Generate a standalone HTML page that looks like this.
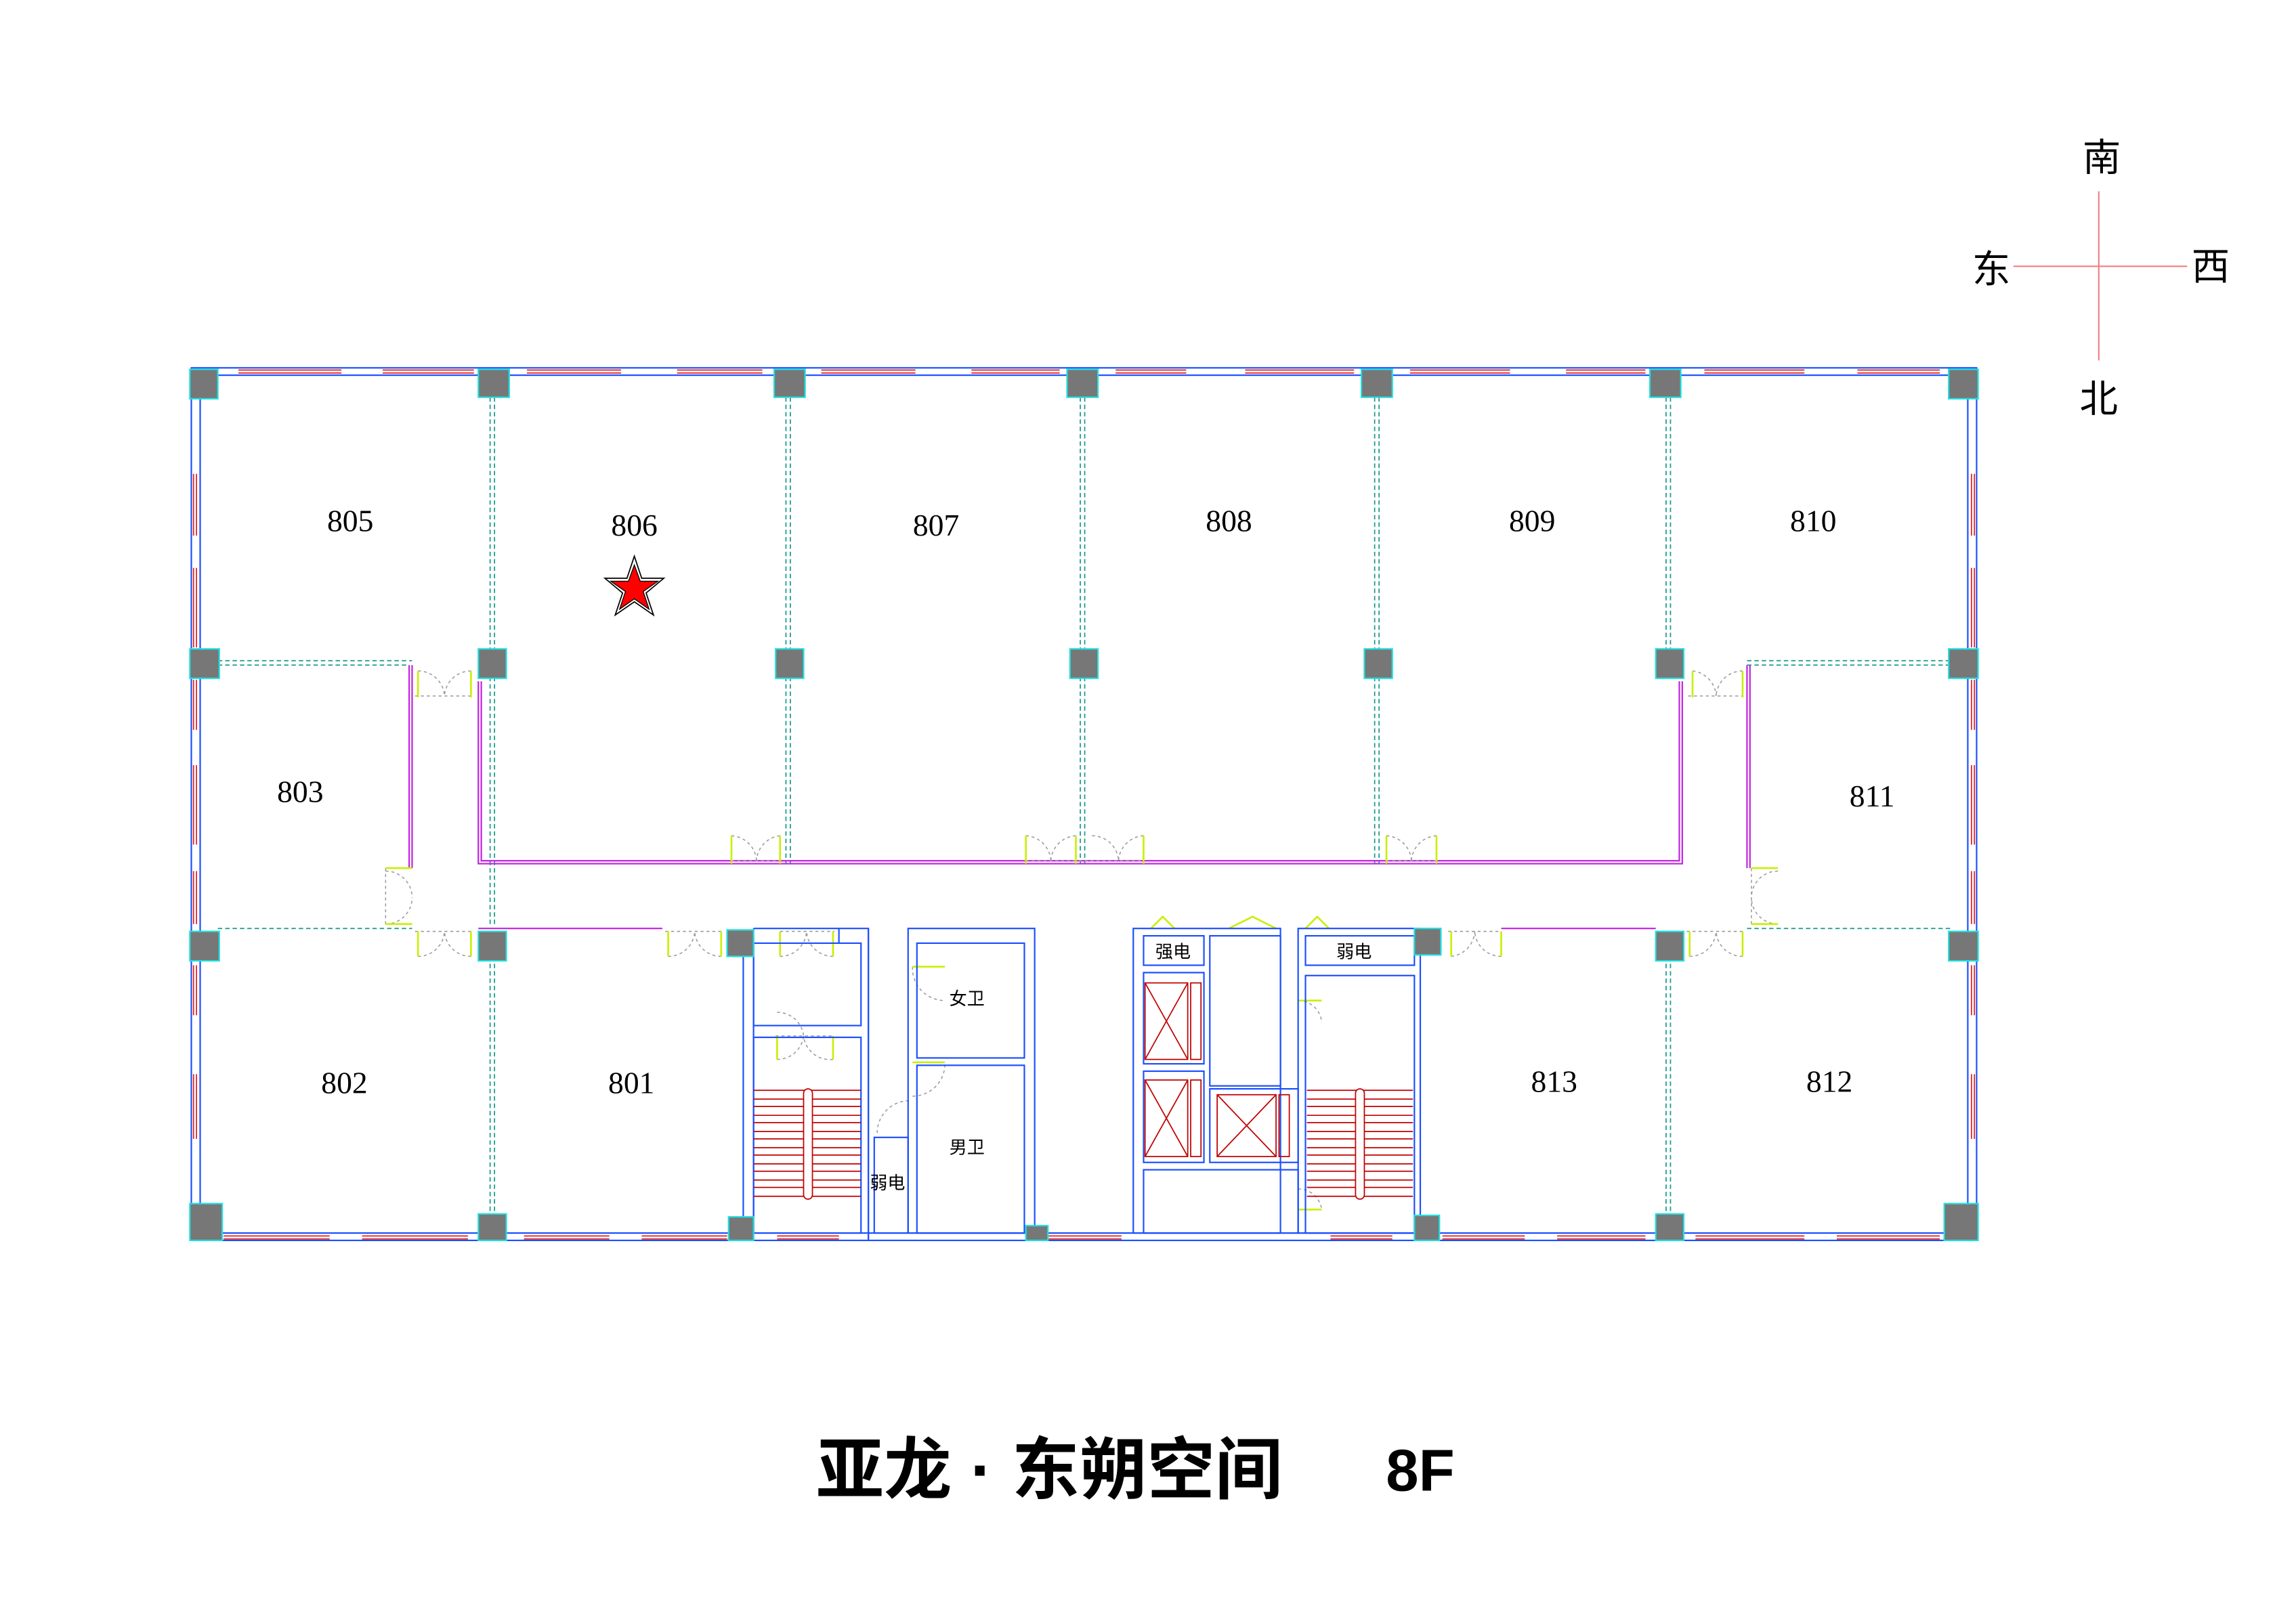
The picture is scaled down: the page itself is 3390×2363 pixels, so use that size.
<!DOCTYPE html>
<html><head><meta charset="utf-8"><style>
html,body{margin:0;padding:0;background:#fff}
svg{display:block}
text{font-family:"Liberation Serif","Noto Serif CJK SC",serif}
.cjk{font-family:"Liberation Sans","Noto Sans CJK SC",sans-serif}
</style></head><body>
<svg width="3390" height="2363" viewBox="0 0 1560 1087.4" preserveAspectRatio="none" xmlns="http://www.w3.org/2000/svg">
<rect width="1560" height="1088" fill="#fff"/>
<!-- compass -->
<g stroke="#f08080" stroke-width="1"><line x1="1426" y1="130" x2="1426" y2="245"/><line x1="1368" y1="181" x2="1486" y2="181"/></g>
<g class="cjk" font-size="26" text-anchor="middle" fill="#000">
<text x="1428" y="116" class="cjk">南</text><text x="1353" y="192" class="cjk">东</text>
<text x="1502" y="190" class="cjk">西</text><text x="1426" y="280" class="cjk">北</text></g>

<!-- outer walls -->
<g fill="none" stroke="#1a4fff" stroke-width="1">
<rect x="130" y="250" width="1213" height="593"/>
<rect x="136" y="255" width="1201" height="583"/>
</g>
<!-- windows top/bottom -->
<g fill="none" stroke="#e02020" stroke-width="0.8">
<path d="M162 251.5H232M260 251.5H322M358 251.5H422M460 251.5H518M558 251.5H622M660 251.5H720M758 251.5H806M846 251.5H920M958 251.5H1026M1064 251.5H1118M1158 251.5H1226M1262 251.5H1318"/>
<path d="M162 253.5H232M260 253.5H322M358 253.5H422M460 253.5H518M558 253.5H622M660 253.5H720M758 253.5H806M846 253.5H920M958 253.5H1026M1064 253.5H1118M1158 253.5H1226M1262 253.5H1318"/>
<path d="M152 840H224M246 840H318M356 840H414M436 840H494M528 840H570M712 840H762M904 840H946M980 840H1036M1058 840H1118M1152 840H1226M1248 840H1318"/>
<path d="M152 842H224M246 842H318M356 842H414M436 842H494M528 842H570M712 842H762M904 842H946M980 842H1036M1058 842H1118M1152 842H1226M1248 842H1318"/>
<path d="M131.5 322V364M131.5 386V440M131.5 462V496M131.5 520V574M131.5 592V628M131.5 656V690M131.5 730V774"/>
<path d="M133.5 322V364M133.5 386V440M133.5 462V496M133.5 520V574M133.5 592V628M133.5 656V690M133.5 730V774"/>
<path d="M1339.5 322V364M1339.5 386V440M1339.5 462V496M1339.5 520V574M1339.5 592V628M1339.5 656V690M1339.5 730V774"/>
<path d="M1341.5 322V364M1341.5 386V440M1341.5 462V496M1341.5 520V574M1341.5 592V628M1341.5 656V690M1341.5 730V774"/>
</g>

<!-- dashed teal partitions -->
<g fill="none" stroke="#1a9a8a" stroke-width="0.8" stroke-dasharray="3,2">
<path d="M333 270V630M336 270V630M534 270V587M537 270V587M734 270V587M737 270V587M934 270V587M937 270V587M1132 270V460M1135 270V460"/>
<path d="M333 650V830M336 650V830M1132 650V830M1135 650V830"/>
<path d="M148 449H280M148 452H278M1187 449H1325M1187 452H1325M148 631H280M1187 631H1325"/>
</g>
<!-- magenta walls -->
<g fill="none" stroke="#c020e0" stroke-width="1">
<path d="M325 463V587H1143V463"/><path d="M327 463V585H1141V463"/>
<path d="M278 452V590M280 452V590"/><path d="M1187 452V590M1189 452V590"/>
<path d="M325 631H450M1020 631H1125"/>
</g>
<!-- doors -->
<g fill="none" stroke="#999" stroke-width="0.7" stroke-dasharray="2,2">
<path d="M282 473H322M497 585H530M697 585H776M942 585H976M1147 473H1184M282 633H322M452 633H490M530 633H567M527 704H567M984 633H1020M1146 633H1184M262 590V630M1190 590V630M777 631H818M835 631H868M887 631H925"/>
<path d="M284 456A18 18 0 0 1 302 473M320 456A18 18 0 0 0 302 473M1150 456A18 18 0 0 1 1166 473M1184 456A18 18 0 0 0 1166 473"/>
<path d="M284 650A18 18 0 0 0 302 633M320 650A18 18 0 0 1 302 633M454 650A18 18 0 0 0 472 633M490 650A18 18 0 0 1 472 633M530 650A18 18 0 0 0 548 633M566 650A18 18 0 0 1 548 633M986 650A18 18 0 0 0 1002 633M1020 650A18 18 0 0 1 1002 633M1148 650A18 18 0 0 0 1166 633M1184 650A18 18 0 0 1 1166 633"/>
<path d="M497 568A18 18 0 0 1 514 585M530 568A18 18 0 0 0 514 585M697 568A18 18 0 0 1 714 585M731 568A18 18 0 0 0 714 585M742 568A18 18 0 0 1 760 585M777 568A18 18 0 0 0 760 585M942 568A18 18 0 0 1 959 585M976 568A18 18 0 0 0 959 585"/>
<path d="M528 720A18 18 0 0 0 546 704M566 720A18 18 0 0 1 546 704M528 688A18 18 0 0 1 546 704"/>
<path d="M262 592A18 18 0 0 1 280 610M262 628A18 18 0 0 0 280 610M1208 592A18 18 0 0 0 1190 610M1208 628A18 18 0 0 1 1190 610"/>
<path d="M620 657A22 22 0 0 0 642 680M620 745A22 22 0 0 0 642 722M596 770A22 22 0 0 1 618 748M882 680A16 16 0 0 1 898 695M882 808A16 16 0 0 1 898 822"/>
</g>
<g fill="none" stroke="#c8f000" stroke-width="1.2">
<path d="M284 456V474M320 456V474M497 568V587M530 568V587M697 568V587M731 568V587M777 568V587M976 568V587M942 568V587M1150 456V474M1184 456V474"/>
<path d="M284 633V650M320 633V650M454 633V650M490 633V650M530 633V650M566 633V650M528 704V720M566 704V720M986 633V650M1020 633V650M1148 633V650M1184 633V650M262 590H280M262 628H280M1190 590H1208M1190 628H1208"/>
<path d="M782 631L790 623L798 631M835 631L851 623L867 631M887 631L895 623L903 631"/>
<path d="M620 657H642M620 722H642M882 680H898M882 822H898"/>
</g>

<!-- left core -->
<g fill="none" stroke="#1a4fff" stroke-width="1">
<path d="M512 843V631M512 631H570V641M570 631H590V843M505 643V838"/>
<rect x="512" y="641" width="73" height="56"/><rect x="512" y="705" width="73" height="133"/>
<path d="M590 631V843"/>
<rect x="617" y="631" width="86" height="207"/><rect x="623" y="641" width="73" height="78"/><rect x="623" y="724" width="73" height="114"/>
<rect x="594" y="773" width="23" height="65"/>
<!-- right core -->
<rect x="770" y="631" width="100" height="207"/>
<rect x="777" y="636" width="41" height="20"/><rect x="777" y="661" width="41" height="62"/><rect x="777" y="728" width="41" height="62"/>
<rect x="822" y="636" width="48" height="102"/><rect x="822" y="740" width="60" height="50"/>
<rect x="777" y="795" width="105" height="43"/>
<rect x="882" y="631" width="83" height="207"/><rect x="887" y="636" width="74" height="20"/><rect x="887" y="663" width="74" height="175"/>
</g>
<!-- elevators -->
<g fill="none" stroke="#c00000" stroke-width="0.8">
<rect x="778" y="668" width="29" height="52"/><path d="M778 668L807 720M807 668L778 720"/><rect x="809" y="668" width="7" height="52"/>
<rect x="778" y="734" width="29" height="52"/><path d="M778 734L807 786M807 734L778 786"/><rect x="809" y="734" width="7" height="52"/>
<rect x="827" y="744" width="40" height="42"/><path d="M827 744L867 786M867 744L827 786"/><rect x="869" y="744" width="7" height="42"/>
</g>
<!-- stairs -->
<g stroke="#c00000" stroke-width="0.8">
<path d="M512 741H585M512 747H585M512 752H585M512 758H585M512 763H585M512 769H585M512 774H585M512 780H585M512 785H585M512 791H585M512 796H585M512 802H585M512 807H585M512 813H585"/>
<path d="M888 741H960M888 747H960M888 752H960M888 758H960M888 763H960M888 769H960M888 774H960M888 780H960M888 785H960M888 791H960M888 796H960M888 802H960M888 807H960M888 813H960"/>
</g>
<rect x="546" y="740" width="6" height="75" rx="3" fill="#fff" stroke="#c00000" stroke-width="0.8"/>
<rect x="921" y="740" width="6" height="75" rx="3" fill="#fff" stroke="#c00000" stroke-width="0.8"/>

<!-- columns -->
<g fill="#777" stroke="#20e0e0" stroke-width="1">
<rect x="129" y="251" width="19" height="20"/><rect x="325" y="251" width="21" height="19"/><rect x="526" y="251" width="21" height="19"/><rect x="725" y="251" width="21" height="19"/><rect x="925" y="251" width="21" height="19"/><rect x="1121" y="251" width="21" height="19"/><rect x="1324" y="251" width="20" height="20"/>
<rect x="129" y="441" width="20" height="20"/><rect x="325" y="441" width="19" height="20"/><rect x="527" y="441" width="19" height="20"/><rect x="727" y="441" width="19" height="20"/><rect x="927" y="441" width="19" height="20"/><rect x="1125" y="441" width="19" height="20"/><rect x="1324" y="441" width="20" height="20"/>
<rect x="129" y="633" width="20" height="20"/><rect x="325" y="633" width="19" height="20"/><rect x="494" y="632" width="18" height="18"/><rect x="961" y="631" width="18" height="18"/><rect x="1125" y="633" width="19" height="20"/><rect x="1324" y="633" width="20" height="20"/>
<rect x="129" y="818" width="22" height="25"/><rect x="325" y="825" width="19" height="18"/><rect x="495" y="827" width="17" height="16"/><rect x="697" y="833" width="15" height="10"/><rect x="961" y="826" width="17" height="17"/><rect x="1125" y="825" width="19" height="18"/><rect x="1321" y="818" width="23" height="25"/>
</g>

<!-- star -->
<polygon points="431,378 436,393 451,393 439,403 444,418 431,409 418,418 423,403 411,393 426,393" fill="#fff" stroke="#000" stroke-width="0.8"/>
<polygon points="431,384 435,395 447,395 437,402 441,414 431,407 421,414 425,402 415,395 427,395" fill="#f00" stroke="#000" stroke-width="0.6"/>

<!-- labels -->
<g font-size="21" text-anchor="middle" fill="#000">
<text x="238" y="361">805</text><text x="431" y="364">806</text><text x="636" y="364">807</text><text x="835" y="361">808</text><text x="1041" y="361">809</text><text x="1232" y="361">810</text>
<text x="204" y="545">803</text><text x="1272" y="548">811</text>
<text x="234" y="743">802</text><text x="429" y="743">801</text><text x="1056" y="742">813</text><text x="1243" y="742">812</text>
</g>
<g font-size="12" text-anchor="middle" fill="#000">
<text x="657" y="683" class="cjk">女卫</text><text x="657" y="784" class="cjk">男卫</text><text x="603" y="808" class="cjk">弱电</text>
<text x="797" y="651" class="cjk">强电</text><text x="920" y="651" class="cjk">弱电</text>
</g>
<text x="713" y="1015" font-size="46" font-weight="bold" text-anchor="middle" class="cjk" fill="#000">亚龙 · 东朔空间</text>
<text x="965" y="1013" font-size="40" font-weight="bold" text-anchor="middle" class="cjk" fill="#000">8F</text>
</svg>
</body></html>
